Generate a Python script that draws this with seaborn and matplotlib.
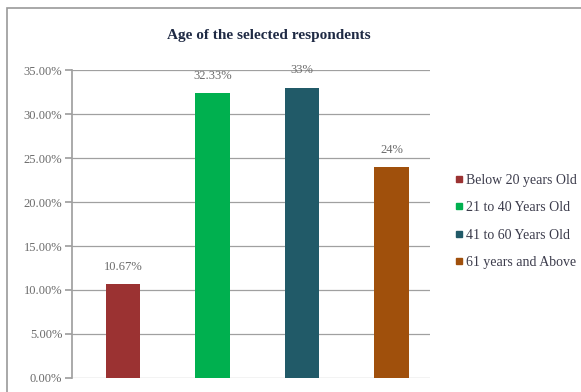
import matplotlib
matplotlib.use("Agg")
import matplotlib.pyplot as plt
import seaborn as sns
import pandas as pd
from matplotlib.patches import Rectangle
from matplotlib.lines import Line2D

# Age groups and their share of respondents (percent)
age_groups = ["Below 20 years Old", "21 to 40 Years Old", "41 to 60 Years Old", "61 years and Above"]
shares = [10.67, 32.33, 33.0, 24.0]
share_labels = ["10.67%", "32.33%", "33%", "24%"]
bar_colors = ["#9B3232", "#00B04F", "#215A68", "#A0500C"]
y_ticks = [0, 5, 10, 15, 20, 25, 30, 35]
y_tick_labels = ["0.00%", "5.00%", "10.00%", "15.00%", "20.00%", "25.00%", "30.00%", "35.00%"]
title = "Age of the selected respondents"

df = pd.DataFrame({"group": age_groups, "share": shares})

sns.set_theme(style="white")
plt.rcParams["font.family"] = ["Liberation Serif", "DejaVu Serif"]

fig = plt.figure(figsize=(5.81, 3.92), dpi=100)
fig.patch.set_facecolor("white")

# chart frame
fig.add_artist(Rectangle((7 / 581, -0.05), 1.1, 1 - 8 / 392 + 0.05, transform=fig.transFigure,
                         fill=False, edgecolor="#9a9a9a", linewidth=1.2))

ax = fig.add_axes([72 / 581, 1 - 378 / 392, (430 - 72) / 581, (378 - 70) / 392])
sns.barplot(data=df, x="group", y="share", hue="group", palette=bar_colors,
            width=0.39, dodge=False, legend=False, ax=ax, edgecolor="none", saturation=1)

ax.set_ylim(0, 35)
ax.set_xlim(-0.57, 3.43)
ax.set_yticks(y_ticks)
ax.set_yticklabels(y_tick_labels, fontsize=9, color="#6b6b6b")
ax.set_xticks([])
ax.set_xlabel("")
ax.set_ylabel("")
ax.yaxis.grid(True, color="#a0a0a0", linewidth=0.9)
ax.set_axisbelow(True)
for side in ["top", "right", "bottom"]:
    ax.spines[side].set_visible(False)
ax.spines["left"].set_color("#a0a0a0")
ax.tick_params(axis="y", length=5, color="#a0a0a0", left=True, pad=2)

for container in ax.containers:
    for bar in container:
        i = int(round(bar.get_x() + bar.get_width() / 2))
        ax.annotate(share_labels[i], (bar.get_x() + bar.get_width() / 2, bar.get_height()),
                    xytext=(0, 8), textcoords="offset points", ha="center", va="bottom",
                    fontsize=9, color="#6b6b6b")

fig.text(269 / 581, 1 - 35 / 392, title, ha="center", va="center",
         fontsize=11, fontweight="bold", color="#1f2a44")

handles = [Line2D([0], [0], marker="s", linestyle="none", markersize=4.5,
                  markerfacecolor=c, markeredgecolor=c) for c in bar_colors]
fig.legend(handles, age_groups, loc="upper left", bbox_to_anchor=(448 / 581, 1 - 168 / 392),
           frameon=False, fontsize=10, labelcolor="#3c3c4c", handletextpad=0.1,
           handlelength=0.8, labelspacing=1.05, borderaxespad=0)

fig.savefig("out.png", dpi=100, facecolor="white")
